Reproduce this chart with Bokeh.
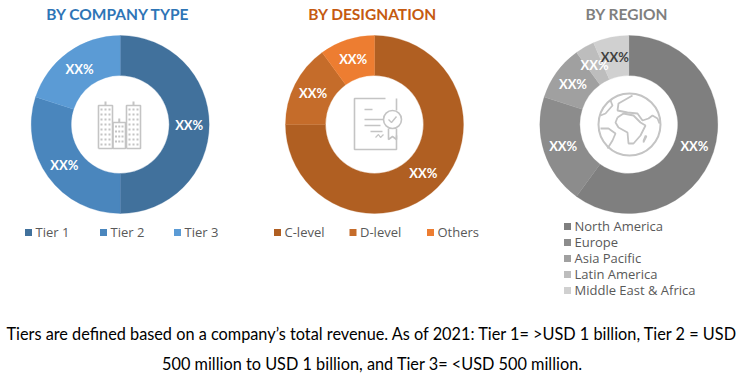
import math
from bokeh.plotting import figure
from bokeh.models import Range1d
from bokeh.core.properties import value
from bokeh.embed import file_html
from bokeh.resources import INLINE

W, H = 742, 375
TITLE_FONT = "Lato"
BODY_FONT = "Open Sans"
NOTE_FONT = "Lato"

company_title = "BY COMPANY TYPE"
company_labels = ["Tier 1", "Tier 2", "Tier 3"]
company_values = [50, 30, 20]
company_colors = ["#41719C", "#4A86BD", "#5B9BD5"]

designation_title = "BY DESIGNATION"
designation_labels = ["C-level", "D-level", "Others"]
designation_values = [75, 15, 10]
designation_colors = ["#B05F22", "#C56C2A", "#ED7D31"]

region_title = "BY REGION"
region_labels = ["North America", "Europe", "Asia Pacific", "Latin America", "Middle East & Africa"]
region_values = [60, 20, 10, 3.5, 6.5]
region_colors = ["#7F7F7F", "#8C8C8C", "#A0A0A0", "#BDBDBD", "#D0D0D0"]
region_label_colors = ["white", "white", "white", "white", "#404040"]

note_lines = [
    "Tiers are defined based on a company\u2019s total revenue. As of 2021: Tier 1= >USD 1 billion, Tier 2 = USD",
    "500 million to USD 1 billion, and Tier 3= <USD 500 million.",
]

# ranges are expressed in page pixels
p = figure(width=W, height=H, output_backend="svg", toolbar_location=None,
           x_range=Range1d(0, W), y_range=Range1d(H, 0), min_border=0)
p.axis.visible = False
p.grid.visible = False
p.outline_line_color = None

R, r = 89, 49
CY = 124


def donut(cx, vals, cols, title, title_color, label_cols=None):
    total = sum(vals)
    cum = 0
    label_cols = label_cols or ["white"] * len(vals)
    for v, c in zip(vals, cols):
        a0 = cum / total * 2 * math.pi
        a1 = (cum + v) / total * 2 * math.pi
        p.annular_wedge(x=cx, y=CY, inner_radius=r, outer_radius=R,
                        start_angle=math.pi / 2 - a0, end_angle=math.pi / 2 - a1,
                        direction="clock", fill_color=c, line_color=c, line_width=0.3)
        cum += v
    cum = 0
    for v, lc in zip(vals, label_cols):
        mid = (cum + v / 2) / total * 2 * math.pi
        rm = (R + r) / 2
        p.text(x=[cx + rm * math.sin(mid)], y=[CY - rm * math.cos(mid)], text=["XX%"],
               text_color=lc, text_font=value(TITLE_FONT), text_font_style="bold",
               text_font_size="13px", text_align="center", text_baseline="middle")
        cum += v
    p.text(x=[cx - 2], y=[13], text=[title], text_color=title_color, text_font=value(TITLE_FONT),
           text_font_style="bold", text_font_size="15.5px", text_align="center", text_baseline="middle")


donut(119.7, company_values, company_colors, company_title, "#2E75B6")
donut(374, designation_values, designation_colors, designation_title, "#C55A11")
donut(628.3, region_values, region_colors, region_title, "#7F7F7F", region_label_colors)


def legend(xs, ys, labels, cols):
    for x, y, l, c in zip(xs, ys, labels, cols):
        p.scatter(x=[x], y=[y], marker="square", size=7, fill_color=c, line_color=None)
        p.text(x=[x + 7], y=[y - 1], text=[l], text_color="#595959", text_font=value(BODY_FONT),
               text_font_size="13px", text_align="left", text_baseline="middle")


legend([28, 103, 177], [232] * 3, company_labels, company_colors)
legend([277, 352.5, 430], [232] * 3, designation_labels, designation_colors)
legend([567] * 5, [226, 242, 258, 274, 290], region_labels, region_colors)

ICON = "#C4C4C4"


def outline(xs, ys, w=1.6, color=ICON):
    p.line(x=xs, y=ys, line_color=color, line_width=w)


# building icon
for x0, x1, y0 in [(98, 112, 105), (112.5, 125, 122), (126, 140, 105)]:
    outline([x0, x0, x1, x1, x0], [148, y0, y0, 148, 148])
    cx = (x0 + x1) / 2
    outline([cx, cx], [y0, y0 - 4], 2)
    wx = [x0 + 3 + i * (x1 - x0 - 6) / 2 for i in range(3)]
    row = y0 + 4
    while row < 146:
        p.scatter(x=wx, y=[row] * 3, marker="square", size=2, fill_color=ICON, line_color=None)
        row += 5

# certificate icon
outline([385, 354, 354, 396, 396], [98, 98, 149, 149, 135])
outline([396, 396], [98, 110])
outline([364, 372], [109, 109])
outline([364, 383], [119, 119])
outline([364, 380], [125, 125])
outline([370, 382], [131, 131])
p.circle(x=[392], y=[119], radius=9, fill_color=None, line_color=ICON, line_width=1.6)
outline([388, 388, 392, 396, 396], [128, 139, 136, 139, 128])
outline([388, 391, 396], [119, 122, 116], 1.4)
outline([375, 378, 380, 383], [137, 134, 137, 134], 1.2)

# globe icon
p.circle(x=[629], y=[124], radius=31, fill_color=None, line_color=ICON, line_width=2)
outline([610, 612, 605, 600], [100, 105, 113, 115], 1.8)
outline([632, 618, 617, 627, 637, 642, 648, 652, 657, 659],
        [95, 103, 110, 112, 113, 120, 118, 115, 118, 123], 1.8)
outline([617, 623, 633, 640, 645, 640, 633, 628, 627, 618, 615, 617],
        [117, 113, 115, 122, 125, 135, 143, 143, 132, 127, 122, 117], 1.8)
outline([600, 608, 615, 612, 607], [128, 128, 133, 140, 148], 1.8)
outline([645, 646, 643, 643, 645], [135, 136, 142, 140, 135], 1.5)

# footnote
for y, t in zip([333, 363], note_lines):
    p.text(x=[372], y=[y], text=[t], text_color="black", text_font=value(NOTE_FONT),
           text_font_size="16.3px", text_align="center", text_baseline="middle")

open("out.html", "w").write(file_html(p, INLINE))
